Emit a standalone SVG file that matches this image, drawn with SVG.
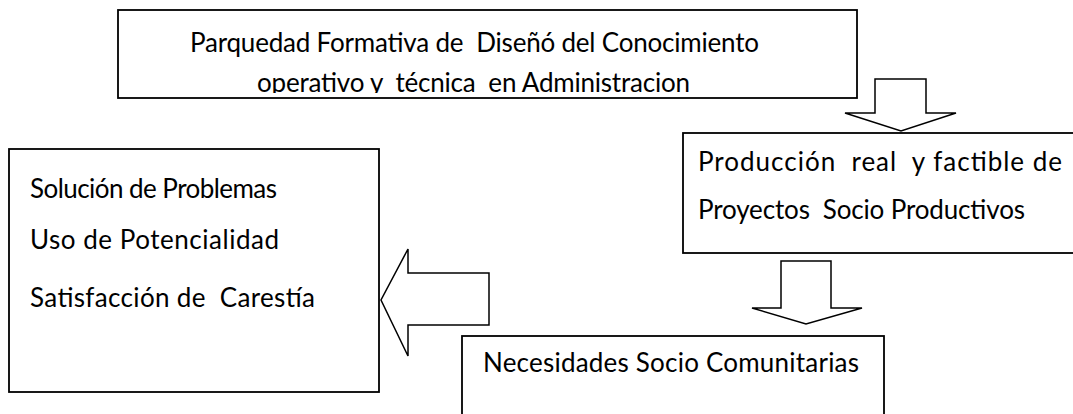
<svg xmlns="http://www.w3.org/2000/svg" width="1073" height="414" viewBox="0 0 1073 414">
<style>
.box{fill:#fff;stroke:#000;stroke-width:1.8}
.arr{fill:#fff;stroke:#000;stroke-width:1.5;stroke-linejoin:miter}
.t{font-family:Lato,"Liberation Sans",sans-serif;font-size:26px;fill:#000}
</style>
<defs>
<clipPath id="clipTop"><rect x="119" y="11" width="739" height="82"/></clipPath>
</defs>
<rect width="1073" height="414" fill="#fff"/>
<g id="connectors">
<polygon class="arr" points="875,79 926,79 926,113 956,113 901,131 845,113 875,113"/>
<polygon class="arr" points="781,261 831,261 831,308 862,308 806,324 752,308 781,308"/>
<polygon class="arr" points="489,273 489,325 408,325 408,356 381,300 408,249 408,273"/>
</g>
<g id="n-top">
<rect class="box" x="118" y="10" width="739" height="88"/>
<g clip-path="url(#clipTop)">
<text class="t" x="190" y="52" textLength="569" lengthAdjust="spacing" xml:space="preserve">Parquedad Formativa de  Diseñó del Conocimiento</text>
<text class="t" x="257" y="92" textLength="433" lengthAdjust="spacing" xml:space="preserve">operativo y  técnica  en Administracion</text>
</g>
</g>
<g id="n-prod">
<rect class="box" x="683" y="133" width="400" height="120"/>
<text class="t" x="698" y="171" textLength="364" lengthAdjust="spacing" xml:space="preserve">Producción  real  y factible de</text>
<text class="t" x="698" y="219" textLength="327" lengthAdjust="spacing" xml:space="preserve">Proyectos  Socio Productivos</text>
</g>
<g id="n-sol">
<rect class="box" x="9" y="149" width="370" height="243"/>
<text class="t" x="30" y="198" textLength="247" lengthAdjust="spacing">Solución de Problemas</text>
<text class="t" x="30" y="249" textLength="249" lengthAdjust="spacing">Uso de Potencialidad</text>
<text class="t" x="30" y="307" textLength="285" lengthAdjust="spacing" xml:space="preserve">Satisfacción de  Carestía</text>
</g>
<g id="n-nec">
<rect class="box" x="462" y="336" width="422" height="100"/>
<text class="t" x="483" y="372" textLength="376" lengthAdjust="spacing">Necesidades Socio Comunitarias</text>
</g>
</svg>
